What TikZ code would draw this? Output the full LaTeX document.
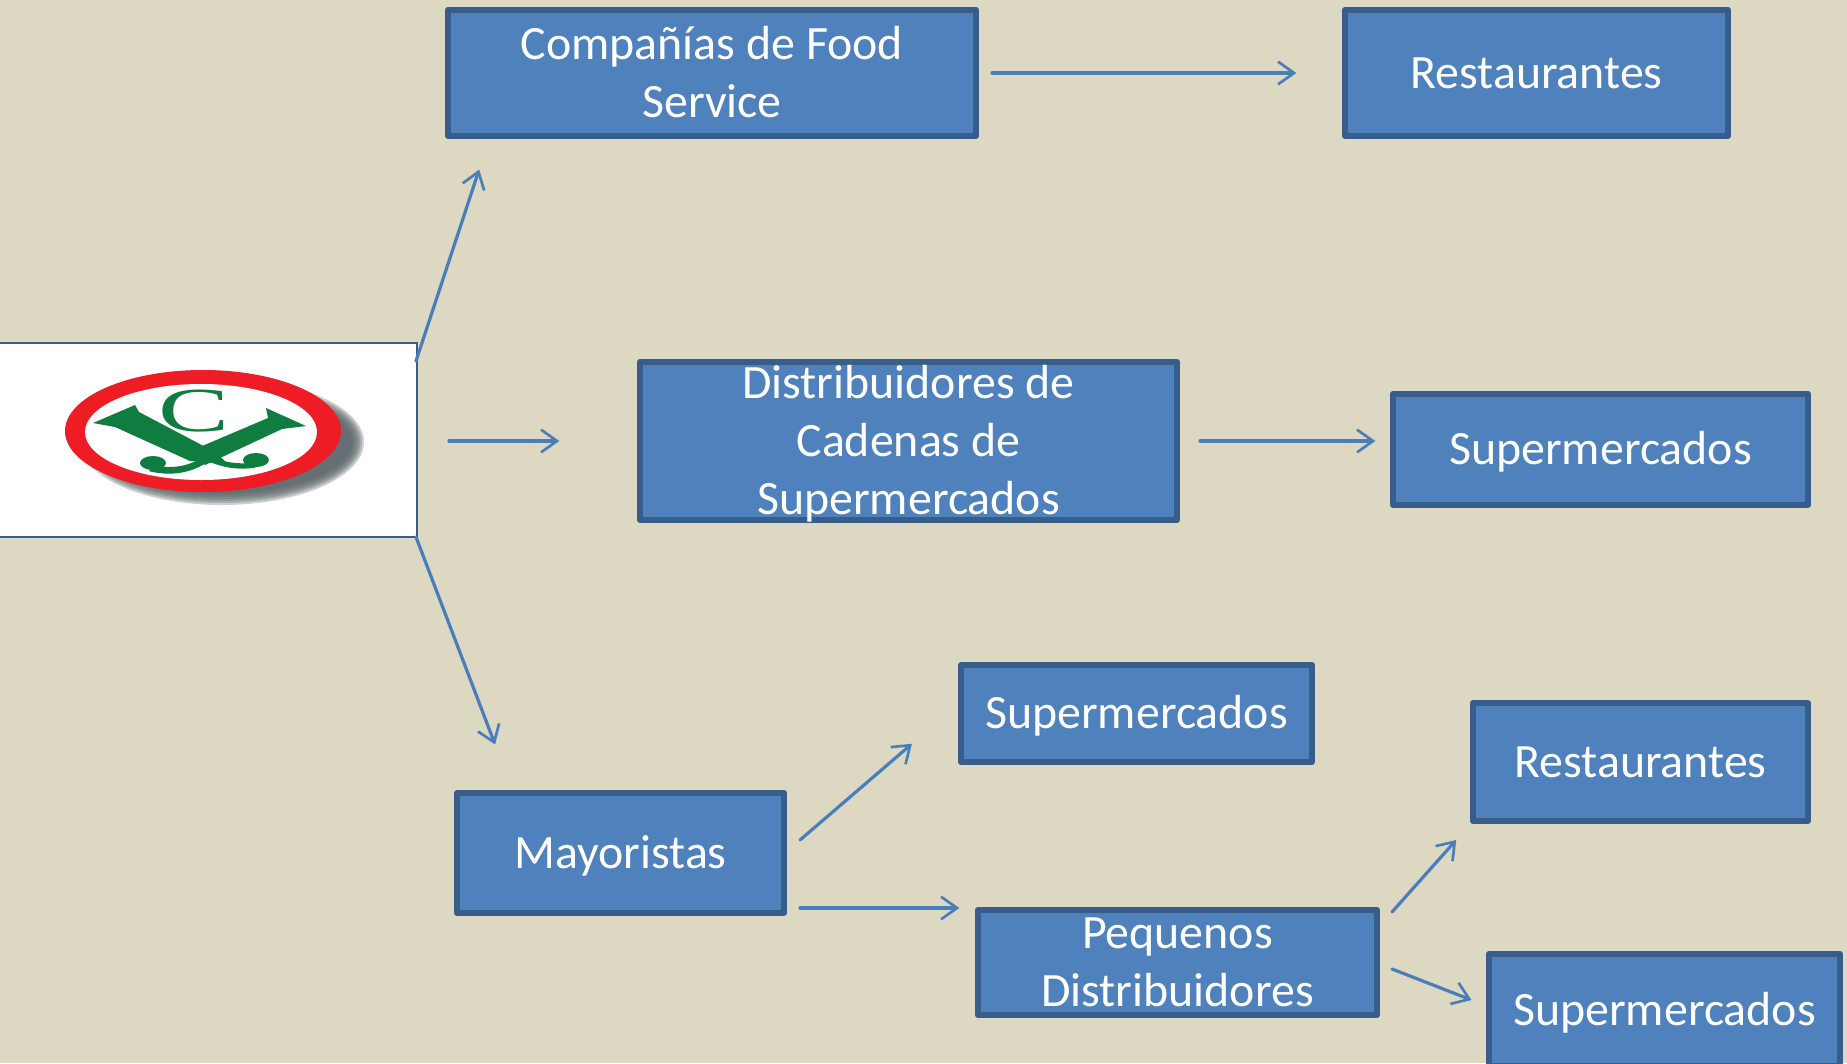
\documentclass[tikz,border=0pt]{standalone}
\usepackage{fontspec}
\setmainfont{Carlito}
\newfontfamily\logoserif{Liberation Serif}
\usetikzlibrary{arrows.meta,calc}
\definecolor{pagebg}{HTML}{DDD8C2}
\definecolor{boxfill}{HTML}{4F81BD}
\definecolor{boxedge}{HTML}{385D8A}
\definecolor{arrowblue}{HTML}{4A7EBB}
\definecolor{logored}{HTML}{EE1C25}
\definecolor{logogreen}{HTML}{0F7D40}
\definecolor{logoshadow}{HTML}{5A6468}
\newcommand\boxlabel[1]{\raisebox{-18pt}{\smash{\begin{tabular}{@{}c@{}}#1\end{tabular}}}}
\tikzset{
  bluebox/.style={rectangle,draw=boxedge,fill=boxfill,line width=4.6pt,line join=round,outer sep=0pt,inner sep=0pt,text=white,font=\fontsize{35.9}{43.4}\selectfont},
  arrowline/.style={draw=arrowblue,line width=2.4pt,line cap=round,shorten >=2pt,-{Straight Barb[length=12pt,width=17pt,line width=2pt]}},
  logobox/.style={rectangle,draw=boxedge,fill=white,line width=1.6pt,outer sep=0pt,inner sep=0pt},
}
\begin{document}
\begin{tikzpicture}[x=0.75pt,y=-0.75pt]
\useasboundingbox (0,0) rectangle (1847,1063);
\clip (0,0) rectangle (1847,1063);
\fill[pagebg] (0,0) rectangle (1847,1063);

% logo panel
\node[logobox,minimum width=438pt*0.75,minimum height=194pt*0.75] (logo) at (198,440) {};

% logo shadow
\foreach \r in {6,4,2,0,-2,-4,-6}{
  \fill[logoshadow,opacity=0.3] (222,442) ellipse ({136+\r} and {57+\r});
}
% logo ring
\fill[logored] (203,431) ellipse (138 and 61);
\fill[white] (201,432) ellipse (116 and 48);

% logo letters
\node[logogreen,font={\logoserif\fontsize{47}{47}\selectfont},xscale=1.7,inner sep=0pt] (logoC) at (194,411) {C};
\fill[logogreen] (93,423) -- (135,405) -- (139,412) -- (215,452) -- (228,464) -- (190,461) -- (115,427) -- cycle;
\fill[logogreen] (306,426) -- (266,408) -- (268,418) -- (188,452) -- (205,465) -- (282,429) -- cycle;
\fill[logogreen] (153,463) ellipse (13 and 7);
\fill[logogreen] (256,460) ellipse (13 and 7);
\draw[logogreen,line width=5pt] (150,468) .. controls (175,474) and (195,468) .. (210,456);
\draw[logogreen,line width=4pt] (255,465) .. controls (235,468) and (215,464) .. (198,452);

% boxes
\node[bluebox,minimum width=528pt*0.75,minimum height=126pt*0.75] (comp) at (712,73) {\boxlabel{Compañías de Food\\Service}};
\node[bluebox,minimum width=383pt*0.75,minimum height=126pt*0.75] (rest1) at (1536.5,73) {\boxlabel{Restaurantes}};
\node[bluebox,minimum width=537pt*0.75,minimum height=158pt*0.75] (dist) at (908.5,441) {\boxlabel{Distribuidores de\\Cadenas de\\Supermercados}};
\node[bluebox,minimum width=415pt*0.75,minimum height=111pt*0.75] (sup1) at (1600.5,449.5) {\boxlabel{Supermercados}};
\node[bluebox,minimum width=351pt*0.75,minimum height=97pt*0.75] (sup2) at (1136.5,713.5) {\boxlabel{Supermercados}};
\node[bluebox,minimum width=335pt*0.75,minimum height=118pt*0.75] (rest2) at (1640.5,762) {\boxlabel{Restaurantes}};
\node[bluebox,minimum width=327pt*0.75,minimum height=120pt*0.75] (may) at (620.5,853) {\boxlabel{Mayoristas}};
\node[bluebox,minimum width=399pt*0.75,minimum height=105pt*0.75] (peq) at (1177.5,962.5) {\boxlabel{Pequenos\\Distribuidores}};
\node[bluebox,minimum width=351pt*0.75,minimum height=112pt*0.75] (sup3) at (1664.5,1010) {\boxlabel{Supermercados}};

% connectors
\draw[arrowline] ($(logo.north east)+(-1,18)$) -- ($(comp.south west)+(32,31)$);
\draw[arrowline] ($(logo.east)+(32,1)$) -- ($(dist.west)+(-78,0)$);
\draw[arrowline] ($(logo.south east)+(-1,0)$) -- ($(may.north west)+(39,-46)$);
\draw[arrowline] ($(comp.east)+(16,0)$) -- ($(rest1.west)+(-46,0)$);
\draw[arrowline] ($(dist.east)+(23,0)$) -- ($(sup1.west)+(-15,-8.5)$);
\draw[arrowline] ($(may.east)+(16,-13)$) -- ($(sup2.south west)+(-47,-20)$);
\draw[arrowline] ($(may.east)+(16,55)$) -- ($(peq.west)+(-16,-54.5)$);
\draw[arrowline] ($(peq.east)+(15,-50.5)$) -- ($(rest2.south west)+(-15,17)$);
\draw[arrowline] ($(peq.east)+(15,6.5)$) -- ($(sup3.west)+(-15,-9)$);
\end{tikzpicture}
\end{document}
